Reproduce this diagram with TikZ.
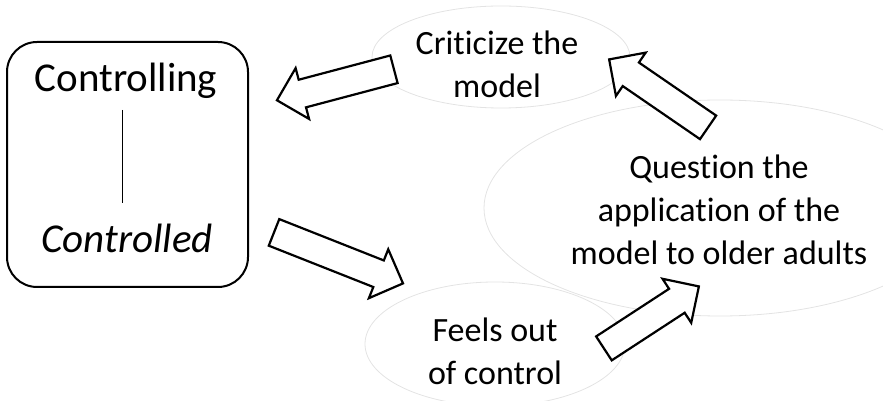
\documentclass[tikz,border=0pt]{standalone}
\usepackage{fontspec}
\setmainfont[Ligatures=NoCommon]{Carlito}
\usetikzlibrary{shapes.geometric,shapes.arrows,calc}

\tikzset{
  bubble/.style={ellipse,draw=gray!22,line width=0.8pt,inner sep=0pt},
  bubbletext/.style={align=center,font=\fontsize{34pt}{43pt}\selectfont},
  blockarrow/.style={single arrow,draw=black,fill=white,line width=2.2pt,
    inner sep=9pt,single arrow head extend=12pt,shape border uses incircle},
}
% block arrow from one coordinate to another
\newcommand{\blockarrow}[2]{%
  \path let \p1=($(#2)-(#1)$), \n1={atan2(\y1,\x1)}, \n2={veclen(\x1,\y1)} in
    node[blockarrow,rotate=\n1,minimum height=\n2,anchor=tail] at (#1) {};}

\begin{document}
\begin{tikzpicture}[x=1pt,y=1pt]
	      \useasboundingbox (0,0) rectangle (883,401);
	      \clip (0,0) rectangle (883,401);
	      % left box
	      \node[draw,line width=2pt,rounded corners=30pt,minimum width=241pt,minimum height=245pt] (box) at (127.5,236.5) {};
	      \node[font=\fontsize{41pt}{49pt}\selectfont] (ctrling) at (126,320) {Controlling};
	      \node[font=\fontsize{41pt}{49pt}\itshape\selectfont] (ctrled) at (127,163) {Controlled};
	      \draw[line width=1pt] (122,291)--(122,198);
	      % ellipses
	      \node[bubble,minimum width=258pt,minimum height=102pt] (crit) at (501,344) {};
	      \node[bubbletext] (crittext) at (497,337) {Criticize the\\model};
	      \node[bubble,minimum width=472pt,minimum height=216pt] (quest) at (720,193) {};
	      \node[bubbletext] (questtext) at (719,191) {Question the\\application of the\\model to older adults};
	      \node[bubble,minimum width=260pt,minimum height=124pt] (feels) at (495,57) {};
	      \node[bubbletext] (feelstext) at (495,50) {Feels out\\of control};
	      % arrows
	      \coordinate (a1) at (395,332); \coordinate (b1) at (278,301);
	      \coordinate (a2) at (709,273); \coordinate (b2) at (610,341);
	      \coordinate (a3) at (273,169); \coordinate (b3) at (402,118);
	      \coordinate (a4) at (603,52);  \coordinate (b4) at (698,114);
	      \blockarrow{a1}{b1}
	      \blockarrow{a2}{b2}
	      \blockarrow{a3}{b3}
	      \blockarrow{a4}{b4}
	    \end{tikzpicture}
\end{document}
